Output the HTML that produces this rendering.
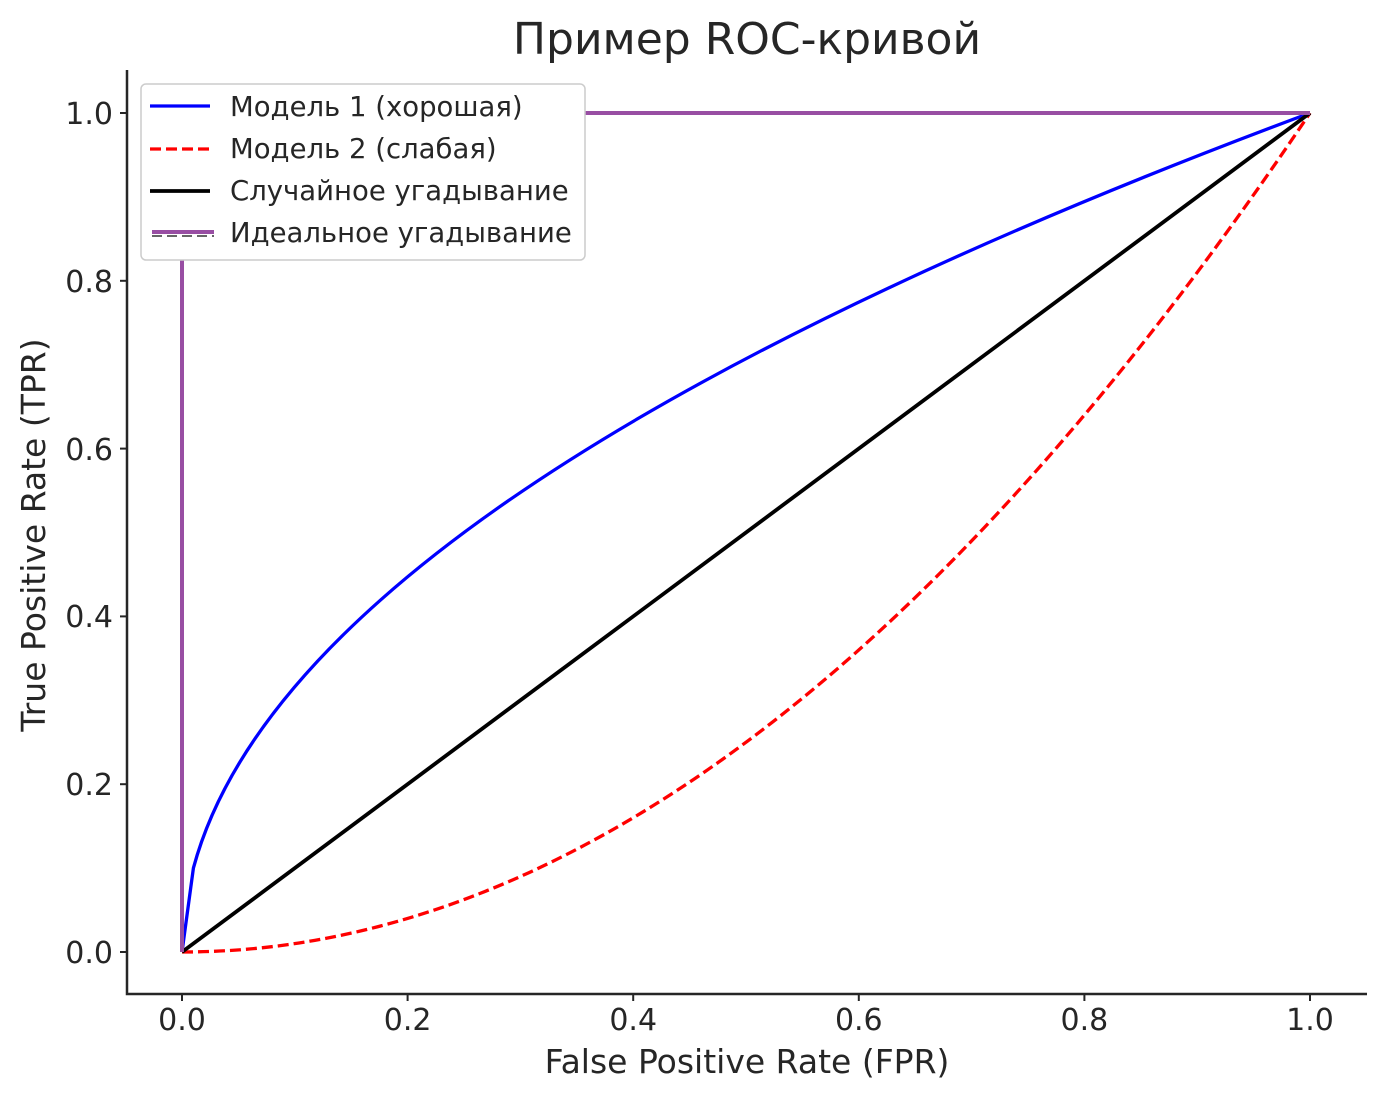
<!DOCTYPE html>
<html><head><meta charset="utf-8"><style>
html,body{margin:0;padding:0;background:#fff;}
svg{display:block;}
text{font-family:"DejaVu Sans","Liberation Sans",sans-serif;fill:#262626;}
</style></head><body>
<svg width="1387" height="1101" viewBox="0 0 1387 1101" xmlns="http://www.w3.org/2000/svg">
<rect width="1387" height="1101" fill="#fff"/>
<text x="747" y="54" font-size="44" text-anchor="middle">Пример ROC-кривой</text>
<path d="M127,70 V994 H1367" fill="none" stroke="#262626" stroke-width="2.5"/>
<g stroke="#262626" stroke-width="2">
<line x1="182" y1="994" x2="182" y2="1001"/><line x1="407.6" y1="994" x2="407.6" y2="1001"/>
<line x1="633.2" y1="994" x2="633.2" y2="1001"/><line x1="858.8" y1="994" x2="858.8" y2="1001"/>
<line x1="1084.4" y1="994" x2="1084.4" y2="1001"/><line x1="1310" y1="994" x2="1310" y2="1001"/>
<line x1="120" y1="952" x2="127" y2="952"/><line x1="120" y1="784.2" x2="127" y2="784.2"/>
<line x1="120" y1="616.4" x2="127" y2="616.4"/><line x1="120" y1="448.6" x2="127" y2="448.6"/>
<line x1="120" y1="280.8" x2="127" y2="280.8"/><line x1="120" y1="113" x2="127" y2="113"/>
</g>
<g font-size="30" text-anchor="middle">
<text x="182" y="1030">0.0</text><text x="407.6" y="1030">0.2</text><text x="633.2" y="1030">0.4</text>
<text x="858.8" y="1030">0.6</text><text x="1084.4" y="1030">0.8</text><text x="1310" y="1030">1.0</text>
</g>
<g font-size="30" text-anchor="end">
<text x="113" y="963">0.0</text><text x="113" y="795">0.2</text><text x="113" y="627">0.4</text>
<text x="113" y="460">0.6</text><text x="113" y="292">0.8</text><text x="113" y="124">1.0</text>
</g>
<text x="747" y="1073" font-size="33" text-anchor="middle">False Positive Rate (FPR)</text>
<text transform="translate(45,535) rotate(-90)" font-size="33" text-anchor="middle">True Positive Rate (TPR)</text>
<path fill="none" stroke="#0000ff" stroke-width="3.3" stroke-linejoin="round" d="M182,952 L193.4,868.1 Q294.8,490.5 1310,113"/>
<path fill="none" stroke="#ff0000" stroke-width="3.3" stroke-dasharray="11,5" d="M182,952 Q746,952 1310,113"/>
<line x1="182" y1="952" x2="1310" y2="113" stroke="#000" stroke-width="3.8"/>
<polyline fill="none" stroke="#984ea3" stroke-width="4" points="182,952 182,113 1310,113"/>
<rect x="141" y="84" width="444" height="176" rx="5" fill="#fff" stroke="#cccccc" stroke-width="1.5"/>
<line x1="150" y1="106" x2="210" y2="106" stroke="#0000ff" stroke-width="3.3"/>
<line x1="150" y1="149" x2="210" y2="149" stroke="#ff0000" stroke-width="3.3" stroke-dasharray="11,5"/>
<line x1="150" y1="191" x2="210" y2="191" stroke="#000" stroke-width="3.8"/>
<line x1="152" y1="232" x2="214" y2="232" stroke="#984ea3" stroke-width="4"/>
<line x1="152" y1="236" x2="214" y2="236" stroke="#333" stroke-width="1.5" stroke-dasharray="10,5"/>
<g font-size="27.5">
<text x="230" y="116">Модель 1 (хорошая)</text>
<text x="230" y="158">Модель 2 (слабая)</text>
<text x="230" y="200">Случайное угадывание</text>
<text x="230" y="242">Идеальное угадывание</text>
</g>
</svg>
</body></html>
